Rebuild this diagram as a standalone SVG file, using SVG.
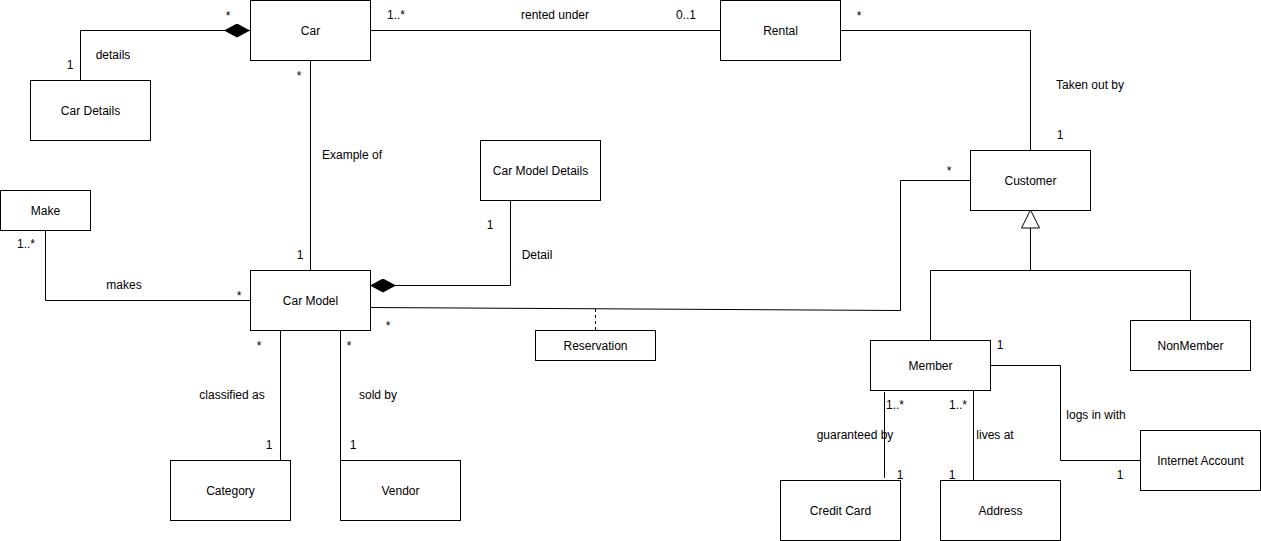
<svg xmlns="http://www.w3.org/2000/svg" width="1261" height="541" viewBox="0 0 1261 541">
  <style>
    .box rect { fill: #ffffff; stroke: #000000; stroke-width: 1; }
    .box text { font-family: "Liberation Sans", Arial, sans-serif; font-size: 12px; fill: #000000; text-anchor: middle; dominant-baseline: central; }
    .edges path { fill: none; stroke: #000000; stroke-width: 1; }
    .edges .dash { stroke-dasharray: 3 3; }
    .lbl text { font-family: "Liberation Sans", Arial, sans-serif; font-size: 12px; fill: #000000; text-anchor: middle; }
  </style>
  <defs>
    <marker id="diamond" viewBox="0 0 26 14" refX="26" refY="7" markerWidth="26" markerHeight="14" markerUnits="userSpaceOnUse" orient="auto">
      <path d="M0,7 L13,0 L26,7 L13,14 Z" fill="#000000"/>
    </marker>
    <marker id="inherit" viewBox="-1 -1 20 20" refX="18" refY="9" markerWidth="20" markerHeight="20" markerUnits="userSpaceOnUse" orient="auto">
      <path d="M0,0 L18,9 L0,18 Z" fill="#ffffff" stroke="#000000" stroke-width="1"/>
    </marker>
  </defs>
  <rect width="1261" height="541" fill="#ffffff"/>

  <!-- connectors -->
  <g class="edges">
    <path d="M80.5,80 V30.5 H250" marker-end="url(#diamond)"/>
    <path d="M370,30.5 H720"/>
    <path d="M840,30.5 H1030.5 V150"/>
    <path d="M310.5,60 V270"/>
    <path d="M510.5,200 V285.5 H370" marker-end="url(#diamond)"/>
    <path d="M45.5,230 V300.5 H250"/>
    <path d="M370,307.5 L900.5,310.5 V180.5 H970"/>
    <path class="dash" d="M595.5,309 V330"/>
    <path d="M280.5,330 V460"/>
    <path d="M340.5,330 V460"/>
    <path d="M1030.5,270 V210" marker-end="url(#inherit)"/>
    <path d="M930.5,340 V270.5 H1190.5 V320"/>
    <path d="M884.5,392 V478"/>
    <path d="M973.5,390 V480"/>
    <path d="M990,365.5 H1060.5 V460.5 H1140"/>
  </g>

  <!-- connector labels and multiplicities -->
  <g class="lbl">
    <text x="228" y="20">*</text>
    <text x="113" y="59">details</text>
    <text x="70" y="69">1</text>
    <text x="396" y="19">1..*</text>
    <text x="555" y="19">rented under</text>
    <text x="686" y="19">0..1</text>
    <text x="859" y="20">*</text>
    <text x="1090" y="89">Taken out by</text>
    <text x="1060" y="139">1</text>
    <text x="949" y="175">*</text>
    <text x="299" y="80">*</text>
    <text x="352" y="159">Example of</text>
    <text x="300" y="259">1</text>
    <text x="490" y="229">1</text>
    <text x="537" y="259">Detail</text>
    <text x="26" y="248">1..*</text>
    <text x="124" y="289">makes</text>
    <text x="239" y="300">*</text>
    <text x="388" y="330">*</text>
    <text x="259" y="350">*</text>
    <text x="349" y="350">*</text>
    <text x="232" y="399">classified as</text>
    <text x="269" y="449">1</text>
    <text x="378" y="399">sold by</text>
    <text x="353" y="449">1</text>
    <text x="1000" y="349">1</text>
    <text x="895" y="409">1..*</text>
    <text x="958" y="409">1..*</text>
    <text x="855" y="439">guaranteed by</text>
    <text x="995" y="439">lives at</text>
    <text x="1096" y="419">logs in with</text>
    <text x="900" y="479">1</text>
    <text x="952" y="479">1</text>
    <text x="1120" y="479">1</text>
  </g>

  <!-- classes -->
  <g id="car" class="box"><rect x="250.5" y="0.5" width="120" height="60"/><text x="310.5" y="30.5">Car</text></g>
  <g id="car-details" class="box"><rect x="30.5" y="80.5" width="120" height="60"/><text x="90.5" y="110.5">Car Details</text></g>
  <g id="rental" class="box"><rect x="720.5" y="0.5" width="120" height="60"/><text x="780.5" y="30.5">Rental</text></g>
  <g id="customer" class="box"><rect x="970.5" y="150.5" width="120" height="60"/><text x="1030.5" y="180.5">Customer</text></g>
  <g id="car-model-details" class="box"><rect x="480.5" y="140.5" width="120" height="60"/><text x="540.5" y="170.5">Car Model Details</text></g>
  <g id="make" class="box"><rect x="0.5" y="190.5" width="90" height="40"/><text x="45.5" y="210.5">Make</text></g>
  <g id="car-model" class="box"><rect x="250.5" y="270.5" width="120" height="60"/><text x="310.5" y="300.5">Car Model</text></g>
  <g id="reservation" class="box"><rect x="535.5" y="330.5" width="120" height="30"/><text x="595.5" y="345.5">Reservation</text></g>
  <g id="category" class="box"><rect x="170.5" y="460.5" width="120" height="60"/><text x="230.5" y="490.5">Category</text></g>
  <g id="vendor" class="box"><rect x="340.5" y="460.5" width="120" height="60"/><text x="400.5" y="490.5">Vendor</text></g>
  <g id="member" class="box"><rect x="870.5" y="340.5" width="120" height="50"/><text x="930.5" y="365.5">Member</text></g>
  <g id="non-member" class="box"><rect x="1130.5" y="320.5" width="120" height="50"/><text x="1190.5" y="345.5">NonMember</text></g>
  <g id="credit-card" class="box"><rect x="780.5" y="480.5" width="120" height="60"/><text x="840.5" y="510.5">Credit Card</text></g>
  <g id="address" class="box"><rect x="940.5" y="480.5" width="120" height="60"/><text x="1000.5" y="510.5">Address</text></g>
  <g id="internet-account" class="box"><rect x="1140.5" y="430.5" width="120" height="60"/><text x="1200.5" y="460.5">Internet Account</text></g>
</svg>
